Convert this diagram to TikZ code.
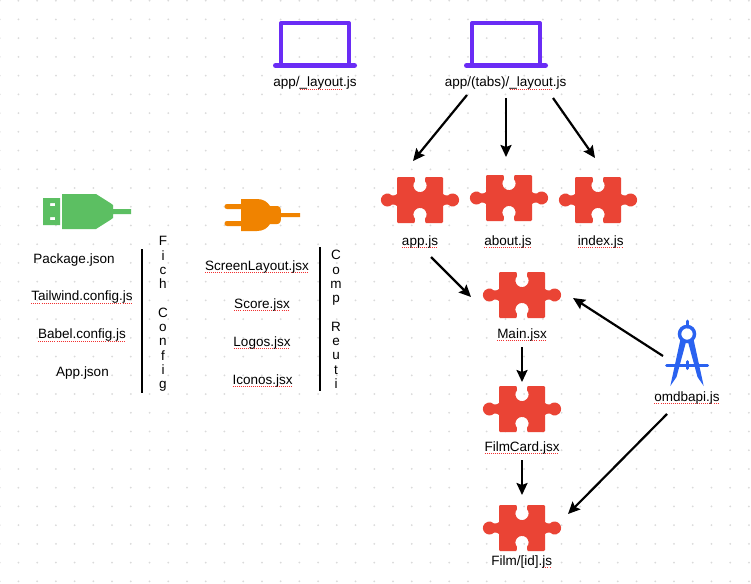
\documentclass[tikz,border=0pt]{standalone}
\usepackage{fontspec}
\setmainfont{Liberation Sans}
\usetikzlibrary{arrows.meta}
\definecolor{puzred}{HTML}{EA4435}
\definecolor{lapviolet}{HTML}{6A2CF5}
\definecolor{usbgreen}{HTML}{5CBF62}
\definecolor{plugorange}{HTML}{F08300}
\definecolor{compblue}{HTML}{2A62F0}
\definecolor{griddot}{HTML}{DADADA}
\definecolor{squig}{HTML}{F23030}
\newcommand\sq[1]{\setbox0\hbox{#1}\leavevmode\rlap{\color{squig}\raisebox{-3pt}{\hbox to\wd0{\xleaders\hbox{\rule{1pt}{0.8pt}\kern1pt}\hfill}}}\box0}
\tikzset{
  x=1pt,y=-1pt,
  lbl/.style={anchor=base,inner sep=0pt,font=\fontsize{13.5}{15}\selectfont},
  vlbl/.style={inner sep=0pt,align=center,font=\fontsize{13.5}{14.3}\selectfont},
  iconbox/.style={inner sep=0pt,minimum width=46pt,minimum height=46pt},
  arr/.style={line width=2.2pt,-{Stealth[length=12pt,width=11pt,inset=2pt]}},
  sep/.style={line width=2.2pt},
  laptop/.pic={
    \draw[lapviolet,line width=4pt,line join=round] (-34,21) -- (-34,-19.5) -- (34,-19.5) -- (34,21);
    \draw[lapviolet,line width=5pt,line cap=round] (-39.5,23) -- (39.5,23);
  },
  puzzle/.pic={
    \fill[puzred]
      (-23,-21.8) .. controls (-23,-23) .. (-21.8,-23)
      -- (-5.8,-23) .. controls (-5.2,-22) and (-4.8,-20.5) .. (-5,-18.8)
      arc[start angle=220.7,end angle=-40.7,radius=6.6]
      .. controls (4.8,-20.5) and (5.2,-22) .. (5.8,-23)
      -- (21.8,-23) .. controls (23,-23) .. (23,-21.8)
      -- (23,-6) .. controls (23.8,-5) and (25.5,-4.3) .. (27.9,-4.5)
      arc[start angle=223.8,end angle=496.2,radius=6.5]
      .. controls (25.5,4.3) and (23.8,5) .. (23,6)
      -- (23,21.8) .. controls (23,23) .. (21.8,23)
      -- (5.8,23) .. controls (5.2,22) and (4.8,20.5) .. (5,18.8)
      arc[start angle=40.7,end angle=-220.7,radius=6.6]
      .. controls (-4.8,20.5) and (-5.2,22) .. (-5.8,23)
      -- (-21.8,23) .. controls (-23,23) .. (-23,21.8)
      -- (-23,6) .. controls (-23.8,5) and (-25.5,4.3) .. (-27.9,4.5)
      arc[start angle=43.8,end angle=316.2,radius=6.5]
      .. controls (-25.5,-4.3) and (-23.8,-5) .. (-23,-6) -- cycle;
  },
}
\begin{document}
\begin{tikzpicture}
\useasboundingbox (0,0) rectangle (751,583);
\fill[white] (0,0) rectangle (751,583);
% dotted canvas
\foreach \i in {0,...,40}{\foreach \j in {0,...,31}{
  \fill[griddot] ({-0.3+18.73*\i},{0.7+18.73*\j}) circle[radius=1];
}}
% laptops
\node[iconbox] (lay) at (315,42.5) {};
\node[iconbox] (tabsicon) at (506,42.5) {};
\pic at (lay.center) {laptop};
\pic at (tabsicon.center) {laptop};
\node[lbl] (laylbl) at (315,87) {app/\sq{\_layout}.js};
\node[lbl] (tabs) at (505.7,87) {app/(tabs)/\sq{\_layout}.js};
% puzzle pieces
\node[iconbox] (appi) at (420,200) {};
\node[iconbox] (abouti) at (509,198) {};
\node[iconbox] (indexi) at (598,200) {};
\node[iconbox] (maini) at (522,295) {};
\node[iconbox] (cardi) at (522,409) {};
\node[iconbox] (filmi) at (522,528) {};
\foreach \n in {appi,abouti,indexi,maini,cardi,filmi}{\pic at (\n.center) {puzzle};}
\node[lbl] (app) at (420,245) {\sq{app.js}};
\node[lbl] (about) at (508,245) {\sq{about.js}};
\node[lbl] (index) at (600.7,245) {\sq{index.js}};
\node[lbl] (main) at (522,338) {\sq{Main.jsx}};
\node[lbl] (card) at (522,451) {\sq{FilmCard.jsx}};
\node[lbl] (film) at (521.7,565) {Film/[id].\sq{js}};
% compass
\node[iconbox,minimum width=44pt] (compass) at (687,365) {};
\begin{scope}[shift={(compass.center)}]
  \draw[compblue,line width=3.5pt] (0,-31) circle[radius=7.5];
  \draw[compblue,line width=3pt,line cap=round] (0,-44) -- (0,-38);
  \fill[compblue] (-6.7,-25) -- (-1,-23) -- (-10.5,12) -- (-16.7,21) -- cycle;
  \fill[compblue] (6.7,-25) -- (1,-23) -- (10.5,12) -- (16.7,21) -- cycle;
  \draw[compblue,line width=3pt,line cap=round] (-20.5,0) -- (20.5,0);
  \draw[compblue,line width=3pt,line cap=round] (0,-3.5) -- (0,3.5);
\end{scope}
\node[lbl] (omdb) at (687,401) {\sq{omdbapi.js}};
% usb
\node[iconbox,minimum width=88pt,minimum height=35pt] (usb) at (87,211.5) {};
\begin{scope}[shift={(usb.center)}]
  \fill[usbgreen,even odd rule] (-44,-13.5) rectangle (-27,13.5)
     (-37,-8.5) rectangle (-32,-5.5) (-37,5.5) rectangle (-32,8.5);
  \fill[usbgreen] (-25,-17.5) -- (9,-17.5) -- (23.7,-8.2) -- (26,-6.5) -- (26,-2.5) -- (44,-2.5) -- (44,2.5) -- (26,2.5) -- (26,6.5) -- (23.7,8.2) -- (9,17.5) -- (-25,17.5) -- cycle;
\end{scope}
% plug
\node[iconbox,minimum width=75pt,minimum height=32pt] (plug) at (262.5,215) {};
\begin{scope}[shift={(plug.center)}]
  \fill[plugorange,rounded corners=2.4pt] (-38,-11) rectangle (-18,-6);
  \fill[plugorange,rounded corners=2.4pt] (-38,6) rectangle (-18,11);
  \fill[plugorange] (-21.5,-16) -- (-5.5,-16) .. controls (1,-16) and (5,-13) .. (7.5,-9)
     -- (14.5,-9) .. controls (18,-9) and (18.5,-6) .. (18.5,-2) -- (37.5,-2) -- (37.5,2) -- (18.5,2)
     .. controls (18.5,6) and (18,9) .. (14.5,9) -- (7.5,9) .. controls (5,13) and (1,16) .. (-5.5,16) -- (-21.5,16) -- cycle;
\end{scope}
% file lists
\node[lbl] (pkg) at (74,263.5) {Package.json};
\node[lbl] (tail) at (82,300.7) {\sq{Tailwind.config.js}};
\node[lbl] (babel) at (82,338.7) {\sq{Babel.config.js}};
\node[lbl] (appj) at (82.5,376) {App.json};
\node[lbl] (screen) at (257,270) {\sq{ScreenLayout.jsx}};
\node[lbl] (score) at (262,308) {\sq{Score.jsx}};
\node[lbl] (logos) at (262,346) {\sq{Logos.jsx}};
\node[lbl] (iconos) at (262.7,384) {\sq{Iconos.jsx}};
% separators
\coordinate (s1a) at (142,249); \coordinate (s1b) at (142,393);
\coordinate (s2a) at (320,247); \coordinate (s2b) at (320,391);
\draw[sep] (s1a) -- (s1b);
\draw[sep] (s2a) -- (s2b);
\node[vlbl] (fich) at (163,314) {F\\i\\c\\h\\ \\C\\o\\n\\f\\i\\g};
\node[vlbl] (comp) at (336,319.5) {C\\o\\m\\p\\ \\R\\e\\u\\t\\i};
% arrows
\draw[arr] ([shift={(-38.7,8)}]tabs.base) -- ([shift={(-7,-39)}]appi.center);
\draw[arr] ([shift={(0.3,11)}]tabs.base) -- ([shift={(-3,-41)}]abouti.center);
\draw[arr] ([shift={(47.3,11)}]tabs.base) -- ([shift={(-3,-42)}]indexi.center);
\draw[arr] ([shift={(11,12)}]app.base) -- ([shift={(-51,2)}]maini.center);
\draw[arr] ([shift={(-24,-45)}]omdb.base) -- ([shift={(51,3)}]maini.center);
\draw[arr] ([shift={(0,9)}]main.base) -- ([shift={(0,-27)}]cardi.center);
\draw[arr] ([shift={(0,9)}]card.base) -- ([shift={(0,-33)}]filmi.center);
\draw[arr] ([shift={(-20,13)}]omdb.base) -- ([shift={(46,-14)}]filmi.center);
\end{tikzpicture}
\end{document}
